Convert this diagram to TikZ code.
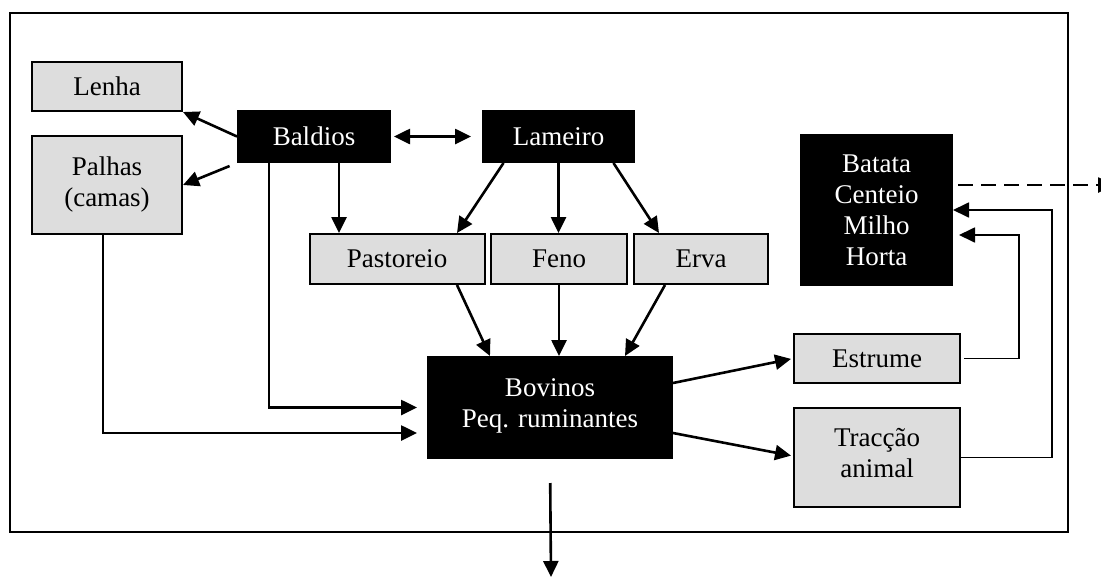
\documentclass[tikz,border=0pt]{standalone}
\usepackage{fontspec}
\setmainfont{Liberation Serif}
\usetikzlibrary{arrows.meta,calc}
\definecolor{boxgray}{HTML}{DDDDDD}
\begin{document}
\begin{tikzpicture}[x=1pt,y=-1pt,
  base/.style={draw=black,line width=2pt,inner sep=0pt,align=center,font=\fontsize{27}{31}\selectfont},
  graybox/.style={base,fill=boxgray,text=black},
  blackbox/.style={base,fill=black,text=white},
  arr/.style={line width=2.6pt,-{Triangle[length=16pt,width=15pt]}},
  darr/.style={line width=2.6pt,{Triangle[length=16pt,width=15pt]}-{Triangle[length=16pt,width=15pt]}},
  thin arr/.style={line width=1.8pt,-{Triangle[length=16pt,width=15pt]}}]
\clip (0,0) rectangle (1101,576);
\fill[white] (0,0) rectangle (1101,576);
% frame
\draw[line width=2pt] (10,13) rectangle (1068,532);
% nodes
\node[graybox,minimum width=150pt,minimum height=49pt] (lenha) at (107,86.5) {Lenha};
\node[graybox,minimum width=150pt,minimum height=98pt] (palhas) at (107,185) {Palhas\\(camas)};
\node[blackbox,minimum width=152pt,minimum height=51pt] (baldios) at (314,136.5) {Baldios};
\node[blackbox,minimum width=151pt,minimum height=51pt] (lameiro) at (558.5,136.5) {Lameiro};
\node[graybox,minimum width=175pt,minimum height=50pt] (pastoreio) at (397,259) {Pastoreio};
\node[graybox,minimum width=136pt,minimum height=50pt] (feno) at (559,259) {Feno};
\node[graybox,minimum width=134pt,minimum height=50pt] (erva) at (701,259) {Erva};
\node[blackbox,minimum width=151pt,minimum height=150pt] (batata) at (876.5,210) {Batata\\Centeio\\Milho\\Horta};
\node[blackbox,minimum width=244pt,minimum height=101pt] (bovinos) at (550,407.5) {Bovinos\\Peq. ruminantes\\[-23pt]\mbox{}};
\node[graybox,minimum width=166pt,minimum height=49pt] (estrume) at (877,358.5) {Estrume};
\node[graybox,minimum width=166pt,minimum height=99pt] (traccao) at (877,457.5) {Tracção\\animal\\[-21pt]\mbox{}};
% helper coordinates
\coordinate (r1) at (1019,0);
\coordinate (r2) at (1052,0);
\coordinate (out) at (1114,185);
\coordinate (down) at (551,577);
% connectors
\draw[darr] (baldios.east) -- (lameiro.west) [shorten <=3pt, shorten >=11pt];
\draw[arr] (baldios.west) -- (lenha.south east);
\draw[arr,shorten <=8pt] (baldios.south west) -- (palhas.east);
\draw[arr] ([xshift=25pt]baldios.south) -- ([xshift=25pt]baldios.south |- pastoreio.north);
\draw[arr,shorten >=10pt] ([xshift=-45pt]baldios.south) |- (bovinos.west);
\draw[arr,shorten >=10pt] ([xshift=-4pt]palhas.south) |- ([yshift=-25.5pt]bovinos.west);
\draw[arr] ([xshift=-55pt]lameiro.south) -- ([xshift=60pt]pastoreio.north);
\draw[arr] (lameiro.south) -- (lameiro.south |- feno.north);
\draw[arr] ([xshift=55pt]lameiro.south) -- ([xshift=-42pt]erva.north);
\draw[arr] ([xshift=60pt]pastoreio.south) -- ([xshift=-60pt]bovinos.north);
\draw[arr] (feno.south) -- (feno.south |- bovinos.north);
\draw[arr] ([xshift=-36pt]erva.south) -- ([xshift=75pt]bovinos.north);
\draw[arr,shorten >=2pt] ([yshift=24.5pt]bovinos.east) -- (estrume.west);
\draw[arr,shorten >=2pt] ([yshift=-25.5pt]bovinos.east) -- ([yshift=1.5pt]traccao.west);
\draw[thin arr,shorten <=3pt,shorten >=6pt] (estrume.east) -- (estrume.east -| r1) |- ([yshift=-25pt]batata.east);
\draw[thin arr] (traccao.east) -- (traccao.east -| r2) |- (batata.east);
\draw[arr,dash pattern=on 15pt off 8pt,shorten <=5pt] ([yshift=25pt]batata.east) -- (out);
\draw[arr,shorten <=24pt] (bovinos.south) -- (down);
\end{tikzpicture}
\end{document}
